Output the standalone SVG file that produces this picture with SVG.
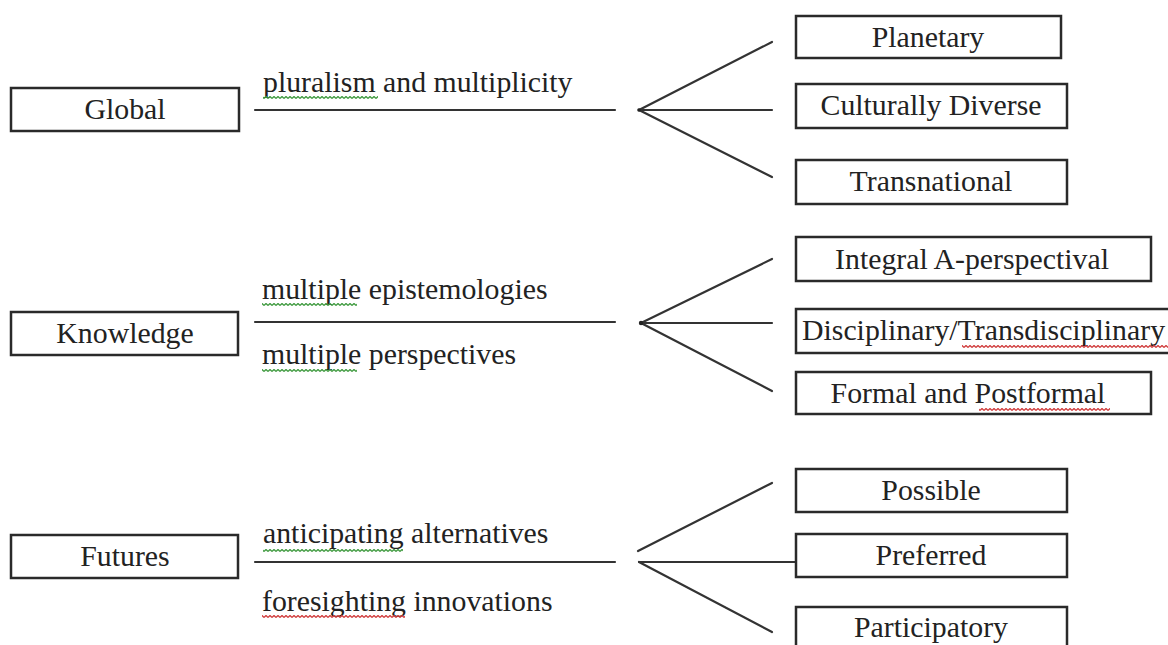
<svg xmlns="http://www.w3.org/2000/svg" width="1168" height="645" viewBox="0 0 1168 645">
<style>
.box{fill:#fff;stroke:#2a2a2a;stroke-width:2.5}
.t{font-family:"Liberation Serif","Times New Roman",serif;font-size:29.8px;fill:#222}
.c{text-anchor:middle}
.ln{stroke:#333;stroke-width:2.2;fill:none;stroke-linecap:round}
</style>
<defs>
<pattern id="sqg" patternUnits="userSpaceOnUse" width="4" height="3"><path d="M0 2.5 L2 0.5 L4 2.5" stroke="#3f9a3f" stroke-width="1.3" fill="none"/></pattern>
<pattern id="sqr" patternUnits="userSpaceOnUse" width="4" height="3"><path d="M0 2.5 L2 0.5 L4 2.5" stroke="#d03c3c" stroke-width="1.3" fill="none"/></pattern>
</defs>
<rect width="1168" height="645" fill="#fff"/>

<g id="connectors">
<line class="ln" x1="255" y1="110" x2="615" y2="110"/>
<line class="ln" x1="639" y1="110" x2="772" y2="42"/>
<line class="ln" x1="639" y1="110" x2="772" y2="110"/>
<line class="ln" x1="639" y1="110" x2="772" y2="177"/>
<circle cx="639" cy="110" r="1.8" fill="#222"/>

<line class="ln" x1="255" y1="322" x2="615" y2="322"/>
<line class="ln" x1="641" y1="323" x2="772" y2="259"/>
<line class="ln" x1="641" y1="323" x2="772" y2="323"/>
<line class="ln" x1="641" y1="323" x2="772" y2="391"/>
<circle cx="641" cy="323" r="2.2" fill="#222"/>

<line class="ln" x1="255" y1="562" x2="615" y2="562"/>
<line class="ln" x1="638" y1="551" x2="772" y2="483"/>
<line class="ln" x1="639" y1="562" x2="795" y2="562"/>
<line class="ln" x1="639" y1="562" x2="772" y2="632"/>
</g>

<g id="labels">
<text class="t" x="263" y="92">pluralism and multiplicity</text>
<rect x="263" y="96" width="115" height="3" fill="url(#sqg)"/>
<text class="t" x="262" y="299">multiple epistemologies</text>
<rect x="262" y="303" width="95" height="3" fill="url(#sqg)"/>
<text class="t" x="262" y="364">multiple perspectives</text>
<rect x="262" y="369" width="95" height="3" fill="url(#sqg)"/>
<text class="t" x="263" y="543">anticipating alternatives</text>
<rect x="263" y="549" width="140" height="3" fill="url(#sqg)"/>
<text class="t" x="262" y="611">foresighting innovations</text>
<rect x="262" y="615" width="143" height="3" fill="url(#sqr)"/>
</g>

<g id="global"><rect class="box" x="11" y="88" width="228" height="43"/><text class="t c" x="125" y="119">Global</text></g>
<g id="knowledge"><rect class="box" x="11" y="312" width="227" height="43"/><text class="t c" x="125" y="343">Knowledge</text></g>
<g id="futures"><rect class="box" x="11" y="535" width="227" height="43"/><text class="t c" x="125" y="566">Futures</text></g>

<g id="planetary"><rect class="box" x="796" y="16" width="265" height="42"/><text class="t c" x="928" y="47">Planetary</text></g>
<g id="culturally-diverse"><rect class="box" x="796" y="84" width="271" height="44"/><text class="t c" x="931" y="115">Culturally Diverse</text></g>
<g id="transnational"><rect class="box" x="796" y="160" width="271" height="44"/><text class="t c" x="931" y="191">Transnational</text></g>

<g id="integral"><rect class="box" x="796" y="237" width="355" height="44"/><text class="t c" x="972" y="269">Integral A-perspectival</text></g>
<g id="disciplinary"><rect class="box" x="796" y="309" width="400" height="44"/><text class="t" x="802" y="340">Disciplinary/Transdisciplinary</text><rect x="962" y="345" width="206" height="3" fill="url(#sqr)"/></g>
<g id="formal"><rect class="box" x="796" y="372" width="355" height="42"/><text class="t c" x="968" y="403">Formal and Postformal</text><rect x="979" y="408" width="131" height="3" fill="url(#sqr)"/></g>

<g id="possible"><rect class="box" x="796" y="469" width="271" height="43"/><text class="t c" x="931" y="500">Possible</text></g>
<g id="preferred"><rect class="box" x="796" y="534" width="271" height="43"/><text class="t c" x="931" y="565">Preferred</text></g>
<g id="participatory"><rect class="box" x="796" y="607" width="271" height="60"/><text class="t c" x="931" y="637">Participatory</text></g>
</svg>
